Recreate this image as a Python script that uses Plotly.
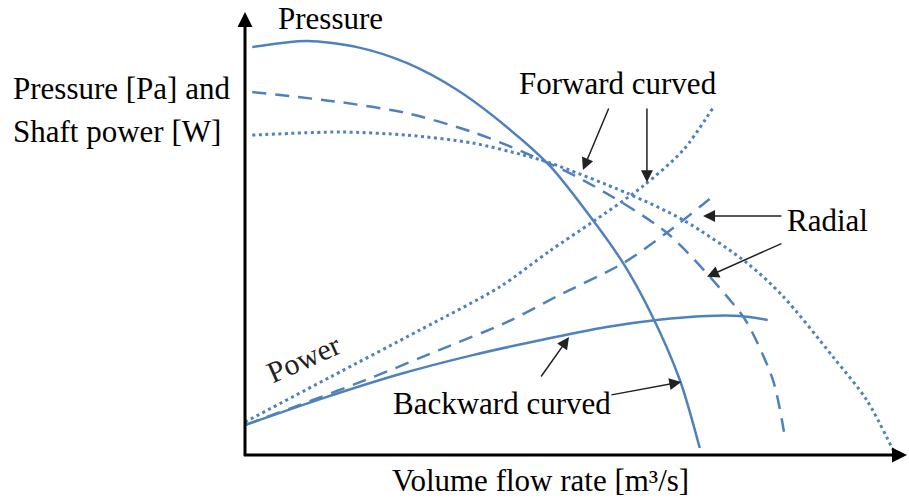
import plotly.graph_objects as go

# ---- data (chart units: flow rate 0..100 on x, pressure/power 0..100 on y) ----
press_back_x = [1.1, 9.4, 17.0, 24.5, 32.1, 39.7, 46.2, 52.7, 57.3, 61.4, 65.9, 68.9]
press_back_y = [92.7, 94.1, 92.7, 89.1, 83.0, 74.5, 65.7, 53.4, 43.6, 32.5, 17.0, 1.6]

press_radial_x = [1.1, 14.4, 24.5, 34.5, 42.1, 51.2, 63.9, 73.5, 76.1, 80.0, 81.8]
press_radial_y = [82.5, 80.2, 77.7, 73.4, 68.9, 62.5, 50.5, 35.2, 30.0, 17.0, 4.1]

press_fwd_x = [1.1, 14.4, 24.5, 34.5, 42.1, 46.2, 57.9, 66.4, 76.1, 81.5, 89.1, 94.2, 98.2]
press_fwd_y = [72.7, 73.4, 72.7, 70.9, 68.2, 66.4, 59.5, 53.4, 43.6, 36.1, 22.3, 12.5, 1.1]

power_back_x = [0.0, 11.4, 23.5, 34.5, 44.7, 54.8, 62.4, 70.0, 75.0, 79.2]
power_back_y = [6.8, 12.7, 18.4, 22.7, 26.1, 29.1, 30.7, 31.6, 31.6, 30.7]

power_radial_x = [0.0, 8.3, 19.4, 29.5, 39.7, 47.3, 57.3, 63.9, 71.5]
power_radial_y = [6.8, 11.4, 17.7, 23.9, 30.2, 36.1, 43.6, 50.5, 59.5]

power_fwd_x = [0.0, 12.9, 26.5, 38.6, 46.2, 52.7, 60.3, 66.4, 70.9]
power_fwd_y = [7.5, 17.7, 28.4, 38.2, 46.4, 53.0, 61.1, 69.3, 78.9]

# labels: (text, x, y)
labels = [
    ("Pressure", 13.0, 99.1),
    ("Forward curved", 56.5, 84.5),
    ("Radial", 88.3, 53.2),
    ("Backward curved", 38.9, 11.6),
]
xlabel = ("Volume flow rate [m³/s]", 44.7, -10.2)
ylabel_lines = [("Pressure [Pa] and", -35.5, 83.4), ("Shaft power [W]", -35.5, 73.6)]
power_label = ("Power", 8.8, 22.0)

# pointer arrows: (tail_x, tail_y, tip_x, tip_y)
pointers = [
    (55.2, 79.1, 51.2, 64.8),
    (60.9, 79.1, 60.9, 62.0),
    (81.5, 54.3, 69.4, 54.3),
    (81.5, 48.2, 70.0, 40.5),
    (44.7, 17.5, 49.1, 26.8),
    (55.3, 13.6, 66.1, 16.6),
]
x_axis_end = 100.3
y_axis_end = 100.7

BLUE = "#4F81BD"
FONT = "'Liberation Serif', 'Times New Roman', Times, serif"

fig = go.Figure()

def add_curve(x, y, dash, width=2.5):
    fig.add_trace(go.Scatter(
        x=x, y=y, mode="lines",
        line=dict(color=BLUE, width=width, dash=dash, shape="spline", smoothing=0.8),
        hoverinfo="skip", showlegend=False))

add_curve(press_back_x, press_back_y, "solid")
add_curve(press_radial_x, press_radial_y, "14px,9px")
add_curve(press_fwd_x, press_fwd_y, "3px,3.5px", 3)
add_curve(power_back_x, power_back_y, "solid")
add_curve(power_radial_x, power_radial_y, "14px,9px")
add_curve(power_fwd_x, power_fwd_y, "3px,3.5px", 3)

ann = []
# axes with arrowheads
ann.append(dict(x=0, y=y_axis_end, ax=0, ay=-0.5, xref="x", yref="y", axref="x", ayref="y",
                text="", showarrow=True, arrowhead=2, arrowsize=1, arrowwidth=3,
                arrowcolor="black", standoff=0))
ann.append(dict(x=x_axis_end, y=0, ax=-0.4, ay=0, xref="x", yref="y", axref="x", ayref="y",
                text="", showarrow=True, arrowhead=2, arrowsize=1, arrowwidth=3,
                arrowcolor="black", standoff=0))
for tx, ty, hx, hy in pointers:
    ann.append(dict(x=hx, y=hy, ax=tx, ay=ty, xref="x", yref="y", axref="x", ayref="y",
                    text="", showarrow=True, arrowhead=2, arrowsize=1.6, arrowwidth=1.5,
                    arrowcolor="#222222", standoff=0))
for t, x, y in labels:
    ann.append(dict(x=x, y=y, xref="x", yref="y", text=t, showarrow=False,
                    xanchor="center", yanchor="middle",
                    font=dict(family=FONT, size=31, color="black")))
ann.append(dict(x=xlabel[1], y=xlabel[2], xref="x", yref="y", text=xlabel[0], showarrow=False,
                xanchor="center", yanchor="bottom",
                font=dict(family=FONT, size=31, color="black")))
for t, x, y in ylabel_lines:
    ann.append(dict(x=x, y=y, xref="x", yref="y", text=t, showarrow=False,
                    xanchor="left", yanchor="middle",
                    font=dict(family=FONT, size=31, color="black")))
ann.append(dict(x=power_label[1], y=power_label[2], xref="x", yref="y", text=power_label[0],
                showarrow=False, textangle=-24, xanchor="center", yanchor="middle",
                font=dict(family=FONT, size=30, color="#222222")))

fig.update_layout(
    width=909, height=501,
    margin=dict(l=0, r=0, t=0, b=0),
    paper_bgcolor="white", plot_bgcolor="white",
    annotations=ann,
    xaxis=dict(range=[-245 / 6.6, (909 - 245) / 6.6], visible=False, fixedrange=True),
    yaxis=dict(range=[(455 - 501) / 4.4, 455 / 4.4], visible=False, fixedrange=True),
)

fig.write_html("out.html")
